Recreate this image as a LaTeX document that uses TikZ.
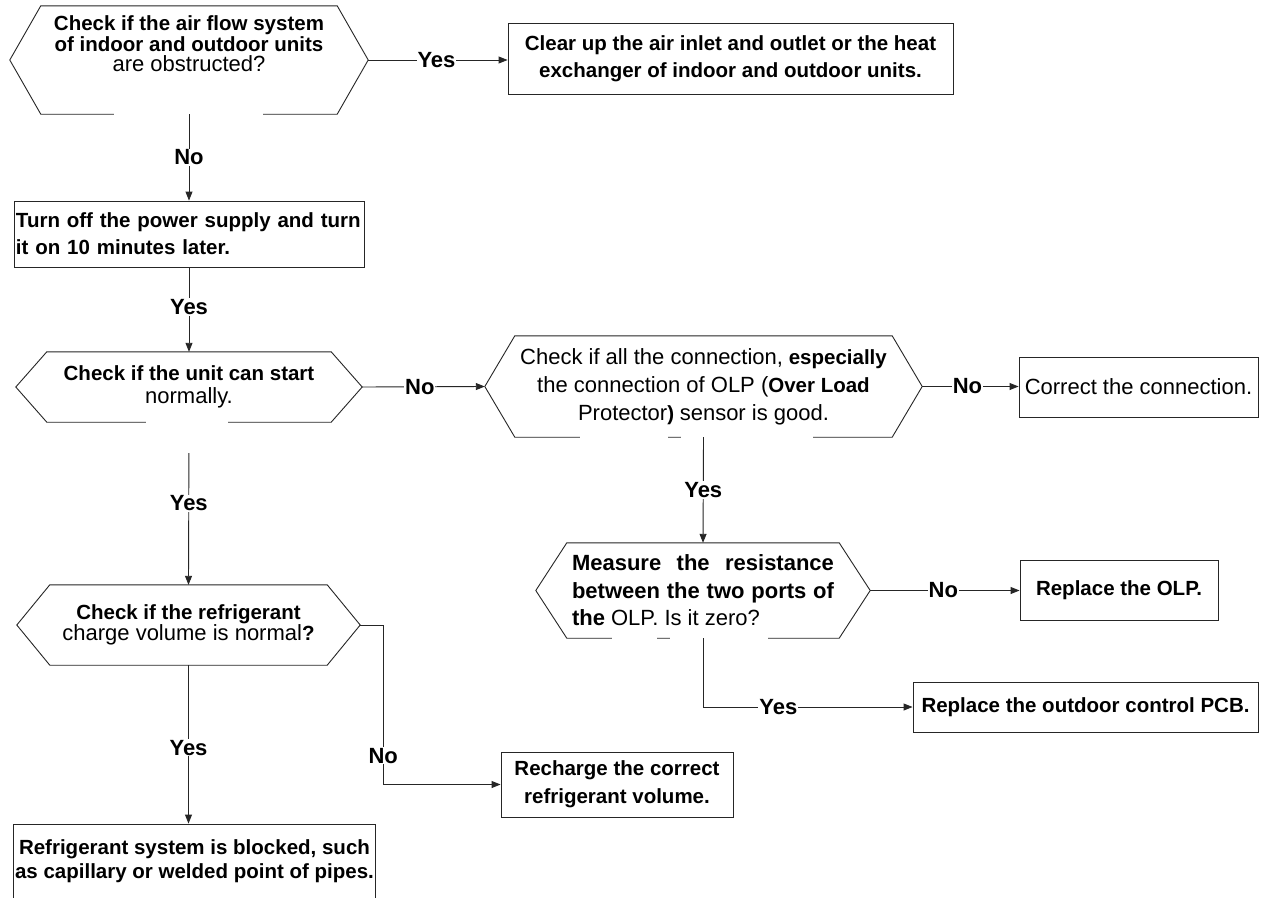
\documentclass[tikz,border=0pt]{standalone}
\usepackage{fontspec}
\setmainfont{Liberation Sans}
\usepackage{tikz}
\usetikzlibrary{calc,arrows.meta}

% bold text size with a given line distance
\def\bsz#1{\fontsize{20.5pt}{#1pt}\selectfont\bfseries}
% regular (non bold) run inside a bold line
\def\nm#1{{\edef\keepbs{\the\baselineskip}\fontsize{22pt}{\keepbs}\selectfont\mdseries #1}}
% hexagon drawn round a node: name, inset of the points
\def\hexa#1#2{\draw[link] ($(#1.north west)+(#2,0)$) -- ($(#1.north east)+(-#2,0)$) -- (#1.east)
  -- ($(#1.south east)+(-#2,0)$) -- ($(#1.south west)+(#2,0)$) -- (#1.west) -- cycle;}

\begin{document}
\begin{tikzpicture}[x=1pt,y=-1pt,
  link/.style={draw=black!85,line width=0.9pt},
  arr/.style={link,-{Triangle[length=9pt,width=7pt]}},
  box/.style={link,rectangle,inner sep=2pt,align=center},
  decision/.style={rectangle,inner sep=0pt,align=center},
  lbl/.style={fill=white,inner sep=1pt,font=\fontsize{22pt}{24pt}\selectfont\bfseries}]

  % page: 1266 x 897, y runs downwards
  \useasboundingbox[fill=white] (0,0) rectangle (1266,897);
  \clip (0,0) rectangle (1266,897);

  % Left column
  \node[decision,minimum width=358pt,minimum height=108pt,font=\bsz{20.5}] (hexAir) at (189,60)
    {\parbox[c][88pt][t]{330pt}{\centering Check if the air flow system\\of indoor and outdoor units\\\nm{are obstructed?}}};
  \node[box,text width=346pt,align=left,minimum height=66pt,font=\bsz{27}] (boxOff) at (189,234)
    {Turn off the power supply and turn\\it on 10 minutes later.};
  \node[decision,minimum width=346pt,minimum height=70pt,font=\bsz{23}] (hexStart) at (189,387)
    {Check if the unit can start\\\nm{normally.}};
  \node[decision,minimum width=343pt,minimum height=80pt,font=\bsz{20}] (hexCharge) at (188.5,625)
    {Check if the refrigerant\\\nm{charge volume is normal}?};
  \node[box,minimum width=355pt,minimum height=74pt,font=\bsz{24}] (boxBlock) at (194.5,861)
    {Refrigerant system is blocked, such\\as capillary or welded point of pipes.};
  \node[box,minimum width=232pt,minimum height=65pt,font=\bsz{28}] (boxRecharge) at (617,784.5)
    {Recharge the correct\\refrigerant volume.};

  % Right part
  \node[box,minimum width=445pt,minimum height=71pt,font=\bsz{27}] (boxClear) at (730.5,58.5)
    {Clear up the air inlet and outlet or the heat\\exchanger of indoor and outdoor units.};
  \node[decision,minimum width=437pt,minimum height=101pt,font=\bsz{28}] (hexConn) at (703.5,386.5)
    {\nm{Check if all the connection,} especially\\\nm{the connection of OLP (}Over Load\\\nm{Protector}) \nm{sensor is good.}};
  \node[box,minimum width=239pt,minimum height=60pt,font=\fontsize{22pt}{27pt}\selectfont] (boxCorrect) at (1138.5,387)
    {Correct the connection.};
  \node[decision,minimum width=334pt,minimum height=95pt,font=\fontsize{22pt}{27.5pt}\selectfont\bfseries] (hexMeasure) at (703,590.5)
    {\makebox[262pt][s]{Measure the resistance}\\\makebox[262pt][s]{between the two ports of}\\\makebox[262pt][l]{the \nm{OLP. Is it zero?}}};
  \node[box,minimum width=198pt,minimum height=60pt,font=\bsz{27}] (boxOLP) at (1119,590)
    {Replace the OLP.};
  \node[box,minimum width=345pt,minimum height=50pt,font=\bsz{27}] (boxPCB) at (1085.5,707)
    {Replace the outdoor control PCB.};

  % Hexagon outlines, with the breaks in their lower edges
  \hexa{hexAir}{31}
  \hexa{hexStart}{31}
  \hexa{hexConn}{30}
  \hexa{hexMeasure}{31}
  \hexa{hexCharge}{33}
  \foreach \xa/\xb/\yy in {114/263/114, 146/228/422, 580/668/437, 681/813/437, 612/657/638, 670/768/638}
    \fill[white] (\xa,\yy-2.5) rectangle (\xb,\yy+2.5);

  % Connectors
  \draw[arr] (hexAir.east) -- node[lbl,pos=0.49]{Yes} (hexAir.east -| boxClear.west);
  \draw[arr] (hexAir.south) -- node[lbl]{No} (boxOff.north);
  \draw[arr] (boxOff.south) -- node[lbl,pos=0.47]{Yes} (hexStart.north);
  \draw[arr] (hexStart.east) -- node[lbl,pos=0.47]{No} (hexConn.west);
  \draw[arr] (hexConn.east) -- node[lbl,pos=0.47]{No} (hexConn.east -| boxCorrect.west);
  \draw[arr] (hexConn.south) -- node[lbl]{Yes} (hexMeasure.north);
  \draw[arr] (hexMeasure.east) -- node[lbl,pos=0.49]{No} (hexMeasure.east -| boxOLP.west);
  \draw[arr] (hexMeasure.south) |- node[lbl,pos=0.68]{Yes} (boxPCB.west);
  \draw[arr,shorten <=31pt] (hexStart.south) -- node[lbl]{Yes} (hexCharge.north);
  \draw[arr] (hexCharge.south) -- node[lbl,pos=0.52]{Yes} (hexCharge.south |- boxBlock.north);
  \draw[arr] (hexCharge.east) -- ++(23,0) |- node[lbl,pos=0.41]{No} (boxRecharge.west);
\end{tikzpicture}
\end{document}
